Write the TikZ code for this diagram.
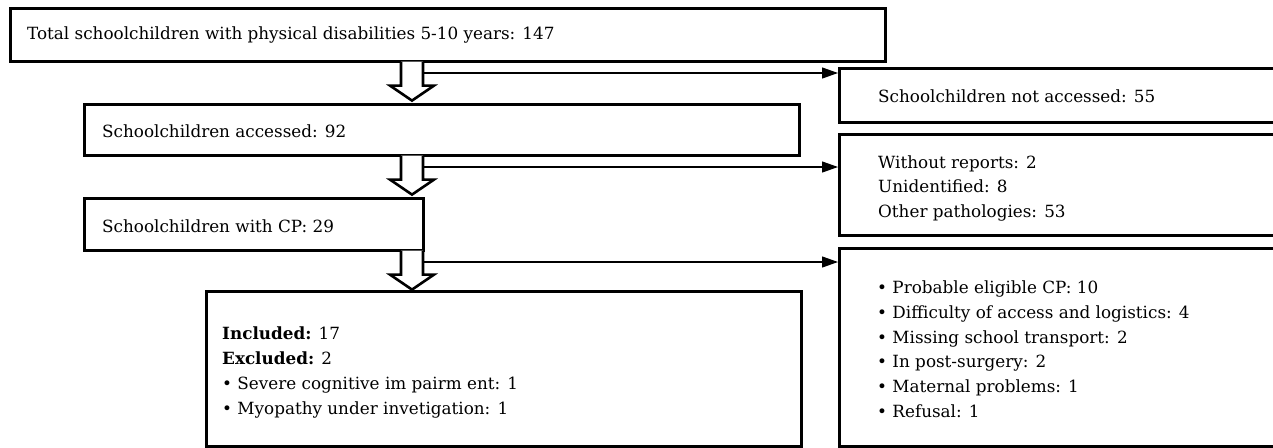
\documentclass[tikz,border=0pt]{standalone}
\usepackage{fontspec}
\setmainfont{DejaVu Serif}
\usetikzlibrary{arrows.meta,calc}
\begin{document}
\begin{tikzpicture}[x=1pt,y=-1pt,
  box/.style={draw, line width=2.6pt, rectangle, inner sep=0pt, anchor=north west},
  txt/.style={anchor=base west, inner sep=0pt, font=\fontsize{16.8}{24.8}\selectfont},
  link/.style={line width=1.2pt, -{Triangle[length=16pt,width=11pt]}},
  hollow/.style={draw, line width=2.6pt, fill=white, line join=miter},
  downarrow/.pic={\draw[hollow] (-11,-1) -- (-11,23) -- (-22,23) -- (0,38) -- (22,23) -- (11,23) -- (11,-1);}]
\useasboundingbox (0,0) rectangle (1273,447);
\clip (0,0) rectangle (1273,447);

% boxes
\node[box, minimum width=875pt, minimum height=53pt] (total) at (9,7) {};
\node[box, minimum width=452pt, minimum height=54pt] (notacc) at (838,67) {};
\node[box, minimum width=715pt, minimum height=51pt] (acc) at (83,103) {};
\node[box, minimum width=452pt, minimum height=101pt] (other) at (838,133) {};
\node[box, minimum width=339pt, minimum height=52pt] (cp) at (83,197) {};
\node[box, minimum width=452pt, minimum height=198pt] (prob) at (838,247) {};
\node[box, minimum width=595pt, minimum height=155pt] (incl) at (205,290) {};

% texts
\node[txt] (ttotal) at (27,39) {Total schoolchildren with physical disabilities 5-10 years: 147};
\node[txt] (tacc) at (102,137) {Schoolchildren accessed: 92};
\node[txt] (tcp) at (102,232) {Schoolchildren with CP: 29};
\node[txt] (tnotacc) at (878,102) {Schoolchildren not accessed: 55};
\node[txt] (to1) at (878,168) {Without reports: 2};
\node[txt] (to2) at (878,192.5) {Unidentified: 8};
\node[txt] (to3) at (878,217) {Other pathologies: 53};
\node[txt] (ti1) at (222,339) {\textbf{Included:} 17};
\node[txt] (ti2) at (222,364) {\textbf{Excluded:} 2};
\node[txt] (ti3) at (222,389) {• Severe cognitive im pairm ent: 1};
\node[txt] (ti4) at (222,414) {• Myopathy under invetigation: 1};
\node[txt] (tp1) at (877,293) {• Probable eligible CP: 10};
\node[txt] (tp2) at (877,318) {• Difficulty of access and logistics: 4};
\node[txt] (tp3) at (877,343) {• Missing school transport: 2};
\node[txt] (tp4) at (877,367.5) {• In post-surgery: 2};
\node[txt] (tp5) at (877,392) {• Maternal problems: 1};
\node[txt] (tp6) at (877,417) {• Refusal: 1};

% hollow down arrows
\pic at (412,0 |- total.south) {downarrow};
\pic at (412,0 |- acc.south) {downarrow};
\pic at (412,0 |- cp.south) {downarrow};

% side connectors
\coordinate (s1) at (423,73);
\coordinate (s2) at (423,167);
\coordinate (s3) at (423,262);
\draw[link] (s1) -- (s1 -| notacc.west);
\draw[link] (s2) -- (s2 -| other.west);
\draw[link] (s3) -- (s3 -| prob.west);
\end{tikzpicture}
\end{document}
